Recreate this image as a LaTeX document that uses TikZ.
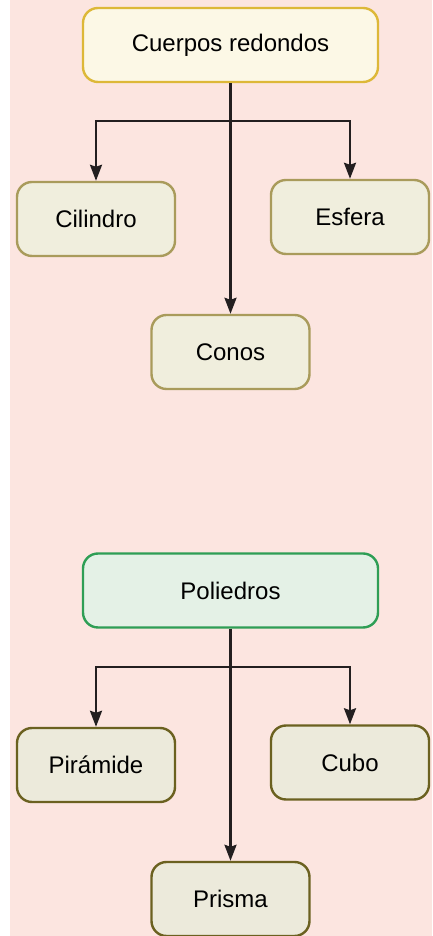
\documentclass[tikz,border=0pt]{standalone}
\usepackage{fontspec}
\setmainfont{Liberation Sans}
\usetikzlibrary{arrows.meta}
\definecolor{fondo}{HTML}{FCE5E0}
\definecolor{oro}{HTML}{DDB838}
\definecolor{crema}{HTML}{FCF8E6}
\definecolor{verde}{HTML}{2E9E55}
\definecolor{verdeclaro}{HTML}{E4F1E6}
\definecolor{oliva}{HTML}{A99B5B}
\definecolor{olivaclaro}{HTML}{F0EEDD}
\definecolor{olivaosc}{HTML}{6B6120}
\definecolor{grisclaro}{HTML}{ECEADB}
\definecolor{flecha}{HTML}{231F20}
\tikzset{
  caja/.style={draw,line width=2.4pt,rounded corners=15pt,minimum height=74pt,
    font=\fontsize{24}{28}\selectfont},
  padre/.style={caja,minimum width=295pt},
  hijo/.style={caja,minimum width=158pt},
  flechita/.style={draw=flecha,line width=2.4pt,-{Stealth[length=16pt,width=12pt,inset=2pt]}}
}
\begin{document}
\begin{tikzpicture}[x=1pt,y=1pt]
  \useasboundingbox (0,0) rectangle (432,936);
  \fill[fondo] (10,0) rectangle (432,936);
  % Cuerpos redondos
  \node[padre,draw=oro,fill=crema] (redondos) at (230.5,891) {Cuerpos redondos};
  \node[hijo,draw=oliva,fill=olivaclaro] (cilindro) at (96,717) {Cilindro};
  \node[hijo,draw=oliva,fill=olivaclaro] (esfera) at (350,719) {Esfera};
  \node[hijo,draw=oliva,fill=olivaclaro] (conos) at (230.5,584) {Conos};
  \coordinate (rama1) at (230.5,815);
  \draw[flechita] (redondos.south) -- (conos.north);
  \draw[flechita] (rama1) -| (cilindro.north);
  \draw[flechita] (rama1) -| (esfera.north);
  % Poliedros
  \node[padre,draw=verde,fill=verdeclaro] (poliedros) at (230.5,345.5) {Poliedros};
  \node[hijo,draw=olivaosc,fill=grisclaro] (piramide) at (96,171) {Pirámide};
  \node[hijo,draw=olivaosc,fill=grisclaro] (cubo) at (350,173.5) {Cubo};
  \node[hijo,draw=olivaosc,fill=grisclaro] (prisma) at (230.5,37) {Prisma};
  \coordinate (rama2) at (230.5,269);
  \draw[flechita] (poliedros.south) -- (prisma.north);
  \draw[flechita] (rama2) -| (piramide.north);
  \draw[flechita] (rama2) -| (cubo.north);
\end{tikzpicture}
\end{document}
